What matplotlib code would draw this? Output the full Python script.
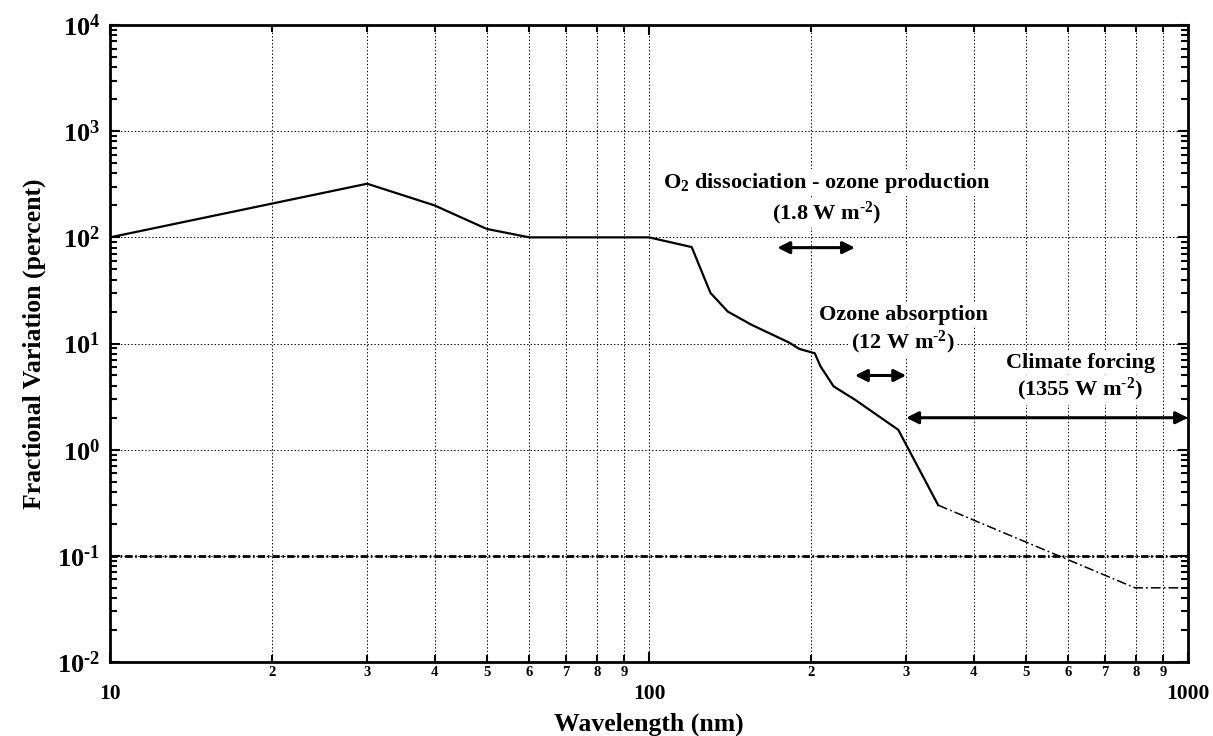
import math

import matplotlib
matplotlib.use("Agg")
from matplotlib import pyplot as plt
from matplotlib.ticker import FixedLocator, FuncFormatter, NullFormatter

plt.rcParams["font.family"] = ["Liberation Serif", "DejaVu Serif"]
plt.rcParams["font.weight"] = "bold"
plt.rcParams["mathtext.fontset"] = "custom"
plt.rcParams["mathtext.rm"] = "Liberation Serif:bold"
plt.rcParams["mathtext.bf"] = "Liberation Serif:bold"
plt.rcParams["mathtext.it"] = "Liberation Serif:bold"
plt.rcParams["mathtext.default"] = "bf"
plt.rcParams["lines.scale_dashes"] = False

# solid part of the measured spectrum variation
wl_solid = [10, 30, 40, 50, 60, 100, 120, 130, 140, 155, 182, 190, 203, 208, 214, 220, 241, 290, 344]
var_solid = [100, 320, 200, 120, 100, 100, 81, 30, 20, 15, 10.2, 8.9, 8.1, 6.1, 4.9, 3.95, 2.96, 1.54, 0.30]

# extrapolated part (dash-dot)
wl_extrap = [344, 797, 1000]
var_extrap = [0.30, 0.05, 0.05]

# reference level
ref_level = 0.1

# annotation arrows: (x start, x end, y)
arrow_o2 = (173, 241, 80)
arrow_ozone = (241, 300, 5.0)
arrow_climate = (300, 1000, 2.0)


def ytick_fmt(v, pos):
    k = round(math.log10(v))
    if k < 0:
        return r"$10^{\text{-}%d}$" % (-k)
    return r"$10^{%d}$" % k


def xminor_fmt(v, pos):
    return "%d" % round(v / 10 ** int(math.floor(math.log10(v) + 1e-9)))


fig = plt.figure(figsize=(12.13, 7.36), dpi=100)
ax = fig.add_axes([0.0907, 0.1005, 0.8887, 0.8655])

ax.set_xscale("log")
ax.set_yscale("log")
ax.set_xlim(10, 1000)
ax.set_ylim(1e-2, 1e4)

ax.plot(wl_solid, var_solid, color="black", lw=1.6, zorder=3)
ax.plot(wl_extrap, var_extrap, color="black", lw=1.1, dashes=(7, 2.2, 1.3, 2.2), zorder=3)
ax.axhline(ref_level, color="black", lw=2.0, dashes=(5.3, 1.9, 1.2, 2.2), zorder=3)

# grid
ax.grid(True, which="major", axis="y", color="black", ls=(0, (1, 1.5)), lw=0.7)
ax.grid(True, which="both", axis="x", color="black", ls=(0, (1, 1.5)), lw=0.7)

# ticks
ax.yaxis.set_major_locator(FixedLocator([10.0 ** k for k in range(-2, 5)]))
ax.yaxis.set_major_formatter(FuncFormatter(ytick_fmt))
ax.yaxis.set_minor_formatter(NullFormatter())
ax.xaxis.set_major_locator(FixedLocator([10, 100, 1000]))
ax.xaxis.set_major_formatter(FuncFormatter(lambda v, p: "%d" % v))
minor_x = [m * d for d in (10, 100) for m in range(2, 10)]
ax.xaxis.set_minor_locator(FixedLocator(minor_x))
ax.xaxis.set_minor_formatter(FuncFormatter(xminor_fmt))

ax.tick_params(which="both", direction="in", top=True, right=True, width=1.5, color="black")
ax.tick_params(which="major", length=7)
ax.tick_params(which="minor", length=5)
ax.tick_params(axis="y", which="major", labelsize=19, pad=7)
ax.tick_params(axis="x", which="major", labelsize=15.5, pad=16)
ax.tick_params(axis="x", which="minor", labelsize=10.5, pad=3)
for sp in ax.spines.values():
    sp.set_linewidth(2)

ax.set_xlabel("Wavelength (nm)", fontsize=18.5, fontweight="bold", labelpad=6)
ax.set_ylabel("Fractional Variation (percent)", fontsize=18.5, fontweight="bold", labelpad=8)

arrow_kw = dict(arrowstyle="<|-|>", color="black", lw=2.2, mutation_scale=18, shrinkA=0, shrinkB=0)
for x0, x1, y in (arrow_o2, arrow_ozone, arrow_climate):
    ax.annotate("", xy=(x0, y), xytext=(x1, y), arrowprops=arrow_kw, zorder=4)

box = dict(facecolor="white", edgecolor="none", pad=1)
txt_kw = dict(ha="center", va="center", fontsize=16, fontweight="bold", bbox=box, zorder=5)
ax.text(214, 327, r"O$_2$ dissociation - ozone production", **txt_kw)
ax.text(214, 170, r"(1.8 W m$^{\text{-2}}$)", **txt_kw)
ax.text(296, 18.7, "Ozone absorption", **txt_kw)
ax.text(296, 10.2, r"(12 W m$^{\text{-2}}$)", **txt_kw)
ax.text(631, 6.6, "Climate forcing", **txt_kw)
ax.text(631, 3.67, r"(1355 W m$^{\text{-2}}$)", **txt_kw)

fig.savefig("out.png", dpi=100)
